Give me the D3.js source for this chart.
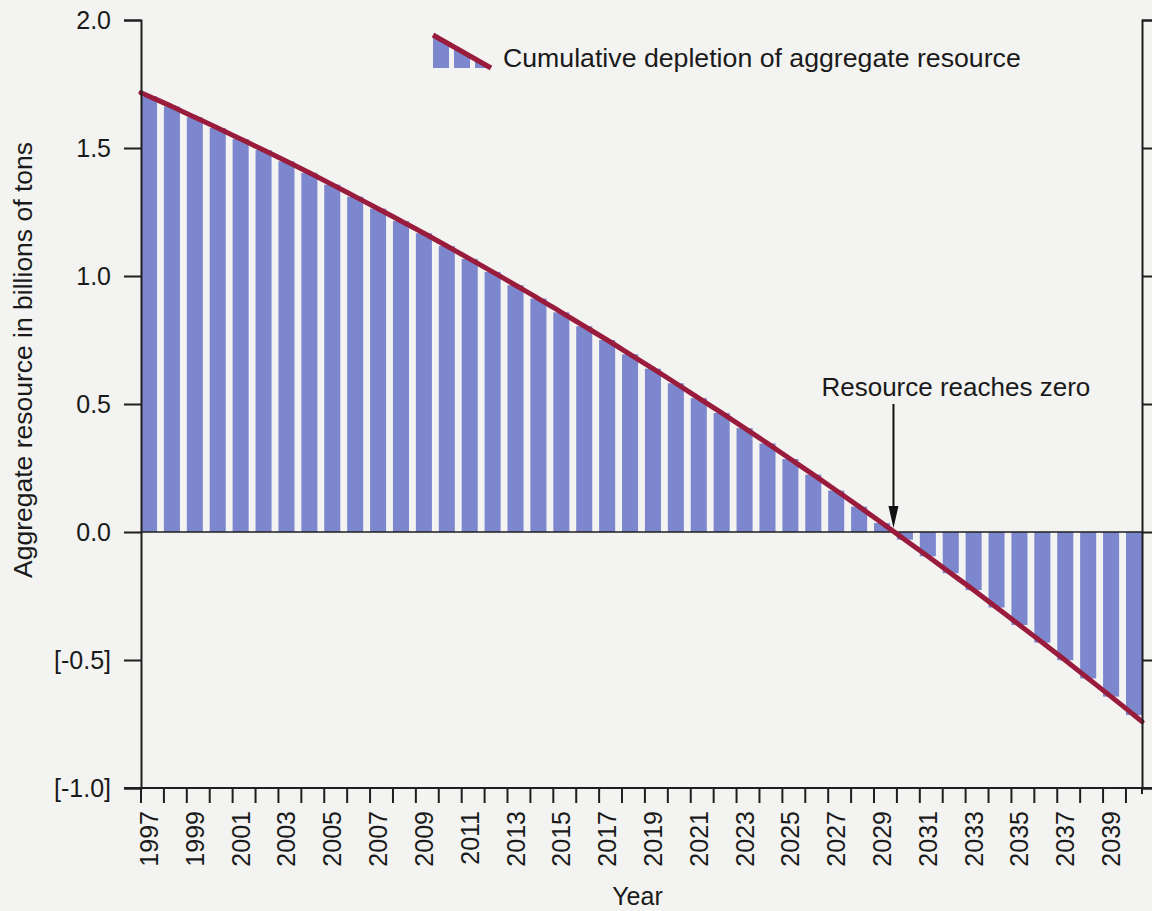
<!DOCTYPE html>
<html>
<head>
<meta charset="utf-8">
<script src="https://cdn.jsdelivr.net/npm/d3@7"></script>
<style>
  html, body { margin: 0; padding: 0; background: #f3f3f1; }
  svg { display: block; }
  text { font-family: "Liberation Sans", Arial, Helvetica, sans-serif; fill: #1a1a1a; }
</style>
</head>
<body>
<svg id="chart" width="1152" height="911"></svg>
<script>
// ---- data ----
const years = d3.range(1997, 2041); // 1997 .. 2040
const resource = [
  1.702, 1.662, 1.620, 1.578, 1.535, 1.492, 1.448, 1.403, 1.357, 1.310,
  1.263, 1.215, 1.167, 1.117, 1.067, 1.016, 0.964, 0.912, 0.858, 0.804,
  0.750, 0.694, 0.638, 0.581, 0.523, 0.465, 0.406, 0.346, 0.285, 0.224,
  0.162, 0.099, 0.035, -0.030, -0.095, -0.161, -0.227, -0.295, -0.363, -0.432,
  -0.501, -0.572, -0.643, -0.715
];
const lineStartValue = 1.716;   // value at the left edge (start of 1997)
const lineEndValue = -0.741;    // value at the right edge (end of 2040)
const yTicks = [2.0, 1.5, 1.0, 0.5, 0.0, -0.5, -1.0];
const yTickLabels = ["2.0", "1.5", "1.0", "0.5", "0.0", "[-0.5]", "[-1.0]"];
const labelYears = years.filter(v => v % 2 === 1);
const zeroYear = 2030; // resource reaches zero at the start of 2030
const legendText = "Cumulative depletion of aggregate resource";
const annotationText = "Resource reaches zero";
const yTitle = "Aggregate resource in billions of tons";
const xTitle = "Year";

// ---- layout ----
const mL = 141, mR = 1142, mT = 20, mB = 788;
const barColor = "#7d87ce";
const lineColor = "#9a1c3c";
const axisColor = "#1e1e1e";

const svg = d3.select("#chart");

const x = d3.scaleBand().domain(years).range([mL, mR])
  .paddingInner(0.3).paddingOuter(0).align(0);
const y = d3.scaleLinear().domain([-1, 2]).range([mB, mT]);
const gap = x.step() - x.bandwidth();

// bars
svg.append("g").selectAll("rect").data(years).join("rect")
  .attr("x", d => x(d))
  .attr("width", x.bandwidth())
  .attr("y", (d, i) => Math.min(y(resource[i]), y(0)))
  .attr("height", (d, i) => Math.abs(y(resource[i]) - y(0)))
  .attr("fill", barColor);

// zero line
svg.append("line")
  .attr("x1", mL).attr("x2", mR)
  .attr("y1", y(0)).attr("y2", y(0))
  .attr("stroke", axisColor).attr("stroke-width", 1.5);

// depletion line
const linePts = [[mL, lineStartValue]]
  .concat(years.map((d, i) => [x(d) + x.bandwidth() / 2, resource[i]]))
  .concat([[mR, lineEndValue]]);
svg.append("path")
  .datum(linePts)
  .attr("d", d3.line().x(d => d[0]).y(d => y(d[1])).curve(d3.curveMonotoneX))
  .attr("fill", "none")
  .attr("stroke", lineColor)
  .attr("stroke-width", 5)
  .attr("stroke-linecap", "round");

// left axis
const yAxisL = d3.axisLeft(y).tickValues(yTicks)
  .tickFormat((d, i) => yTickLabels[i]).tickSize(17).tickPadding(13);
const gL = svg.append("g").attr("transform", `translate(${mL},0)`).call(yAxisL);
gL.select(".domain").attr("stroke", axisColor).attr("stroke-width", 2);
gL.selectAll(".tick line").attr("stroke", axisColor).attr("stroke-width", 2);
gL.selectAll(".tick text").style("font-size", "25px").attr("fill", "#1a1a1a");

// right axis (no labels)
const yAxisR = d3.axisRight(y).tickValues(yTicks).tickFormat("").tickSize(12);
const gR = svg.append("g").attr("transform", `translate(${mR},0)`).call(yAxisR);
gR.select(".domain").attr("stroke", axisColor).attr("stroke-width", 2);
gR.selectAll(".tick line").attr("stroke", axisColor).attr("stroke-width", 2);

// bottom axis: ticks at every year start, labels on odd years
const gB = svg.append("g").attr("transform", `translate(0,${mB})`);
gB.append("line").attr("x1", mL - 17).attr("x2", mR + 12)
  .attr("y1", 0).attr("y2", 0).attr("stroke", axisColor).attr("stroke-width", 2);
gB.selectAll("line.tk").data(years).join("line").attr("class", "tk")
  .attr("x1", d => x(d)).attr("x2", d => x(d))
  .attr("y1", 0).attr("y2", 15)
  .attr("stroke", axisColor).attr("stroke-width", 2);
gB.append("line").attr("x1", mR).attr("x2", mR)
  .attr("y1", 0).attr("y2", 6).attr("stroke", axisColor).attr("stroke-width", 2);
gB.selectAll("text.yl").data(labelYears).join("text").attr("class", "yl")
  .attr("transform", d => `translate(${x(d) + x.bandwidth() / 2},23) rotate(-90)`)
  .attr("text-anchor", "end")
  .attr("dy", "0.36em")
  .style("font-size", "25px")
  .text(d => d);

// axis titles
svg.append("text")
  .attr("transform", `translate(32,${(mT + mB) / 2 - 44}) rotate(-90)`)
  .attr("text-anchor", "middle")
  .style("font-size", "26.5px")
  .text(yTitle);
svg.append("text")
  .attr("x", (mL + mR) / 2 - 4).attr("y", 905)
  .attr("text-anchor", "middle")
  .style("font-size", "25px")
  .text(xTitle);

// annotation arrow
const ax = x(zeroYear) - gap / 2;
const arrowTop = y(0.5), arrowTip = y(0) - 4;
svg.append("line")
  .attr("x1", ax).attr("x2", ax)
  .attr("y1", arrowTop).attr("y2", arrowTip - 16)
  .attr("stroke", "#111").attr("stroke-width", 2);
svg.append("path")
  .attr("d", `M${ax - 5},${arrowTip - 22} L${ax + 5},${arrowTip - 22} L${ax},${arrowTip} Z`)
  .attr("fill", "#111");
svg.append("text")
  .attr("x", ax - 72).attr("y", 396)
  .style("font-size", "26px")
  .text(annotationText);

// legend
const lg = svg.append("g").attr("transform", "translate(433,35)");
const lw = 58, lh = 33;
const clip = svg.append("defs").append("clipPath").attr("id", "legclip");
clip.append("path").attr("d", `M0,0 L${lw},${lh} L0,${lh} Z`);
const stripes = lg.append("g").attr("clip-path", "url(#legclip)");
[0, 1, 2].forEach(k => {
  stripes.append("rect")
    .attr("x", k * 21).attr("y", 0)
    .attr("width", 16).attr("height", lh)
    .attr("fill", barColor);
});
lg.append("line")
  .attr("x1", 0).attr("y1", 0).attr("x2", lw).attr("y2", lh)
  .attr("stroke", lineColor).attr("stroke-width", 5);
svg.append("text")
  .attr("x", 503).attr("y", 67)
  .style("font-size", "26.7px")
  .text(legendText);
</script>
</body>
</html>
